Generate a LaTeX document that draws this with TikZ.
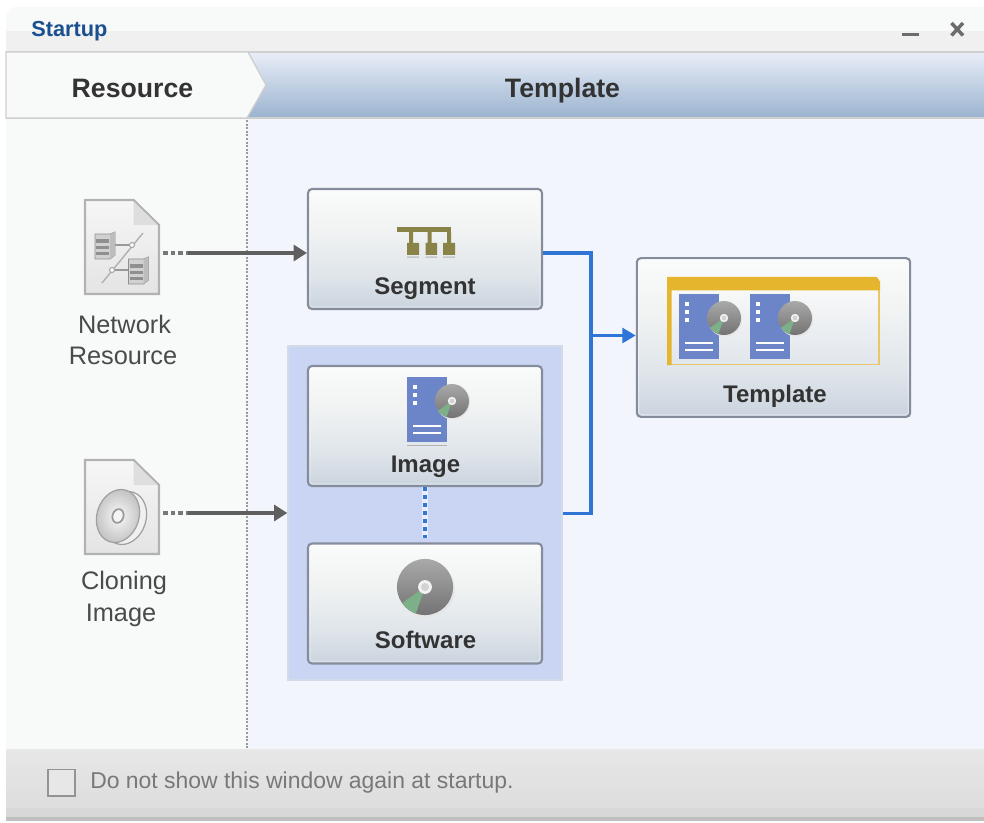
\documentclass[tikz,border=0pt]{standalone}
\usepackage{fontspec}
\setmainfont{Liberation Sans}
\usetikzlibrary{arrows.meta,shapes.geometric}
\definecolor{cWinA}{HTML}{F8F9F9}
\definecolor{cWinB}{HTML}{F0F0F0}
\definecolor{cEdge}{HTML}{CFCFCF}
\definecolor{cTabTop}{HTML}{E9EEF8}
\definecolor{cTabBot}{HTML}{9AB3CF}
\definecolor{cLeft}{HTML}{F8FAFA}
\definecolor{cRight}{HTML}{F2F5FB}
\definecolor{cPanel}{HTML}{C9D5F2}
\definecolor{cPanelEdge}{HTML}{D3DAE8}
\definecolor{cBoxEdge}{HTML}{858D9C}
\definecolor{cBlue}{HTML}{2E75D6}
\definecolor{cGrayLine}{HTML}{5F5F5F}
\definecolor{cServer}{HTML}{6C84C8}
\definecolor{cGold}{HTML}{E6B52E}
\definecolor{cGoldLight}{HTML}{E8C766}
\definecolor{cOlive}{HTML}{8A8348}
\definecolor{cGreen}{HTML}{7DB088}
\definecolor{cTitle}{HTML}{1B4F8F}
\definecolor{cDark}{HTML}{333333}
\definecolor{cText}{HTML}{4A4A4A}
\definecolor{cFoot}{HTML}{787878}
\definecolor{cIcon}{HTML}{A9A9A9}
\definecolor{cBoxT}{HTML}{FAFBFB}
\definecolor{cBoxA}{HTML}{F1F3F3}
\definecolor{cBoxB}{HTML}{DFE5EA}
\definecolor{cBoxC}{HTML}{CDD6E0}
\definecolor{cFootA}{HTML}{E7E7E7}
\definecolor{cFootB}{HTML}{DDDDDD}
\definecolor{cFootC}{HTML}{D8D8D8}
\definecolor{cFootD}{HTML}{C0C0C0}
\definecolor{cFold}{HTML}{DEDEDE}
\definecolor{cDocTop}{HTML}{F6F6F6}
\definecolor{cDocBot}{HTML}{E4E4E4}
\definecolor{cInnerT}{HTML}{F7F8F8}
\definecolor{cInnerB}{HTML}{E1E6EC}
\definecolor{cSrv}{HTML}{BDBDBD}
\definecolor{cSrvD}{HTML}{8F8F8F}
\pgfdeclareverticalshading{boxshade}{100bp}{color(0bp)=(cBoxC); color(25bp)=(cBoxC); color(27bp)=(cBoxC); color(39bp)=(cBoxB); color(58bp)=(cBoxA); color(75bp)=(cBoxT); color(100bp)=(cBoxT)}
\tikzset{
  x=0.75pt,y=-0.75pt,
  boxnode/.style={draw=cBoxEdge,line width=1.6pt,rounded corners=3pt,shading=boxshade,inner sep=0pt},
  boldlabel/.style={font=\bfseries\fontsize{18}{18}\selectfont,text=cDark,inner sep=0pt,anchor=base},
  headlabel/.style={font=\bfseries\fontsize{20}{20}\selectfont,text=cDark,inner sep=0pt,anchor=base},
  iconlabel/.style={font=\fontsize{19}{19}\selectfont,text=cText,inner sep=0pt,anchor=base},
  docnode/.style={minimum width=55.5pt,minimum height=70.5pt,inner sep=0pt},
  innerglow/.style={draw=white,opacity=.3,line width=1pt,rounded corners=2pt},
  grayarrow/.style={cGrayLine,line width=2.4pt,-{Triangle[length=10pt,width=12pt]}},
  graydots/.style={cGrayLine!85,line width=2.4pt,dash pattern=on 3.4pt off 2.3pt},
  blueline/.style={cBlue,line width=2.4pt},
  discpic/.pic={
    \fill[white!80!gray] (1,1.5) circle[radius=17];
    \shade[top color=cIcon,bottom color=black!55] (0,0) circle[radius=17];
    \fill[cGreen] (0,0) -- (145:17) arc[start angle=145,end angle=109,radius=17] -- cycle;
    \fill[white!90!gray] (0,0) circle[radius=4.2];
    \fill[white!65!gray] (0,0) circle[radius=2.4];
  },
  serverpic/.pic={
    \fill[cServer] (0,0) rectangle (39.5,65);
    \foreach \yy in {10,18,26} \fill[white] (6,\yy-2) rectangle (10,\yy+2);
    \fill[white] (6,48.3) rectangle (34,49.8);
    \fill[white] (6,55.3) rectangle (34,56.8);
    \pic at (45,24) {discpic};
  },
  docpic/.pic={
    \shade[draw=cIcon!90,line width=1.6pt,top color=cDocTop,bottom color=cDocBot] (0,0) -- (48.5,0) -- (74,25) -- (74,94) -- (0,94) -- cycle;
    \fill[cFold] (48.5,0) -- (74,25) -- (48.5,25) -- cycle;
    \draw[cIcon!90,line width=1.1pt] (48.5,0) -- (74,25);
  },
  minisrv/.pic={
    \fill[cSrv!70!white,draw=cSrvD,line width=.6pt] (0,2) -- (15,2) -- (20,0) -- (20,23) -- (15,27) -- (0,27) -- cycle;
    \fill[cSrv] (15,2) -- (20,0) -- (20,23) -- (15,27) -- cycle;
    \fill[cSrvD] (1,7) rectangle (14,11);
    \fill[cSrvD] (1,14) rectangle (14,17);
    \fill[cSrvD] (1,20) rectangle (14,23);
  },
}
\begin{document}
\begin{tikzpicture}
\useasboundingbox (0,0) rectangle (984,823);
\fill[white] (0,0) rectangle (984,823);
% window chrome
\fill[cWinA] (14,7) -- (984,7) -- (984,31) -- (6,31) -- (6,15) -- cycle;
\fill[cWinB] (6,31) rectangle (984,52);
\fill[cLeft] (6,119) rectangle (247,749);
\fill[cRight] (247,119) rectangle (984,749);
\shade[top color=cTabTop,bottom color=cTabBot] (240,52) rectangle (984,118);
\fill[cEdge] (6,51) rectangle (984,53);
\fill[cEdge] (6,117.5) rectangle (984,119.5);
\fill[cWinA,draw=cEdge,line width=1pt] (6,52) -- (248,52) -- (266,85) -- (247,118) -- (6,118) -- cycle;
\draw[gray!80,line width=1.4pt,dash pattern=on 1.5pt off 1.2pt] (247,120) -- (247,749);
% footer
\shade[top color=cFootA,bottom color=cFootB] (6,749) rectangle (984,808);
\fill[cFootC] (6,808) rectangle (984,817);
\fill[cFootD] (6,817) rectangle (984,821);
\fill[white!82!gray] (6,749) rectangle (984,751);
\fill[cFootA,draw=gray!85,line width=1.1pt] (48,769.5) rectangle (75,796);
\node[font=\fontsize{17.2}{18}\selectfont,text=cFoot,inner sep=0pt,anchor=base west] (footnote) at (90,788.5) {Do not show this window again at startup.};
% title
\node[font=\bfseries\fontsize{16.3}{17}\selectfont,text=cTitle,inner sep=0pt,anchor=base west] (title) at (31,37) {Startup};
\draw[gray!85!black,line width=2.2pt] (902,34.5) -- (919,34.5);
\draw[gray!85!black,line width=2.6pt] (951.5,23) -- (963,35.5) (963,23) -- (951.5,35.5);
\node[headlabel] (tabres) at (132.5,98) {Resource};
\node[headlabel] (tabtpl) at (562.5,98) {Template};
% group panel
\node[draw=cPanelEdge,fill=cPanel,line width=1pt,minimum width=205.5pt,minimum height=250.5pt,inner sep=0pt] (group) at (425,513) {};
% boxes
\node[boxnode,minimum width=175.5pt,minimum height=90pt] (segment) at (425,249) {};
\node[boxnode,minimum width=175.5pt,minimum height=90pt] (image) at (425,426) {};
\node[boxnode,minimum width=175.5pt,minimum height=90pt] (software) at (425,603.5) {};
\node[boxnode,minimum width=205pt,minimum height=119pt] (template) at (773.5,337.5) {};
\foreach \bx in {segment,image,software,template}
  \draw[innerglow] ([shift={(3,3)}]\bx.north west) rectangle ([shift={(-3,-3)}]\bx.south east);
\node[boldlabel] (lsegment) at (425,294.5) {Segment};
\node[boldlabel] (limage) at (425.5,472) {Image};
\node[boldlabel] (lsoftware) at (425.5,648.5) {Software};
\node[boldlabel] (ltemplate) at (775,402.5) {Template};
% segment icon
\fill[gray!45] (407,256.5) rectangle (419,258) (425.5,256.5) rectangle (437,258) (443,256.5) rectangle (455,258);
\fill[cOlive] (397,227.5) rectangle (451,232);
\fill[cOlive] (407,243) rectangle (419,255) (425.5,243) rectangle (437,255) (443,243) rectangle (455,255);
\fill[cOlive] (409,232) rectangle (413,243) (427.5,232) rectangle (431.5,243) (447,232) rectangle (451,243);
% image icon
\fill[gray!60] (407,444.5) rectangle (447,446);
\pic at (407,377) {serverpic};
% software icon
\pic[scale=1.65] at (425,587) {discpic};
% template icon
\shade[top color=cInnerT,bottom color=cInnerB] (667,290) rectangle (880,365);
\draw[cGoldLight,line width=1.2pt] (670,364.5) -- (879,364.5) -- (879,288);
\fill[cGold] (667,365) -- (667,277) -- (876,277) to[out=0,in=-90] (880,281) -- (880,290.5) -- (671.5,290.5) -- (671.5,365) -- cycle;
\pic at (679,294) {serverpic};
\pic at (750,294) {serverpic};
% network doc
\node[docnode] (netdoc) at (122,247) {};
\pic at (85,200) {docpic};
\pic at (95,232) {minisrv};
\pic at (128.5,257) {minisrv};
\draw[gray!80,line width=1pt] (115,245) -- (132,245) (112,270) -- (128,270);
\draw[gray!60,line width=1.1pt] (143,233) -- (102,283);
\fill[white,draw=gray!70,line width=.8pt] (132,245) circle[radius=2.5];
\fill[white,draw=gray!70,line width=.8pt] (112,270) circle[radius=2.5];
% cloning doc
\node[docnode] (clonedoc) at (122,507) {};
\pic at (85,460) {docpic};
\fill[white!88!gray,draw=gray!75,line width=.9pt,rotate around={-18:(125,518)}] (125,518) ellipse[x radius=21,y radius=27];
\shade[inner color=white!95!gray,outer color=gray!50,draw=gray!75,line width=.9pt,rotate around={-18:(118,516)}] (118,516) ellipse[x radius=21,y radius=27];
\fill[white!92!gray,draw=gray!80,line width=1.3pt,rotate around={-18:(118,516)}] (118,516) ellipse[x radius=5.5,y radius=7];
% captions
\node[iconlabel] (capa) at (124.5,333) {Network};
\node[iconlabel] (capb) at (123,364) {Resource};
\node[iconlabel] (capc) at (124,589.5) {Cloning};
\node[iconlabel] (capd) at (121,621) {Image};
% connectors
\coordinate (netdots) at (163,253);
\coordinate (netline) at (188,253);
\coordinate (clonedots) at (163,513);
\coordinate (cloneline) at (188,513);
\coordinate (busjoin) at (591,335.5);
\coordinate (groupout) at (562.5,513.5);
\coordinate (segout) at (543,253);
\draw[graydots] (netdots) -- (netline);
\draw[grayarrow] (netline) -- (segment.west |- netline);
\draw[graydots] (clonedots) -- (cloneline);
\draw[grayarrow] (cloneline) -- (group.west |- cloneline);
\draw[blueline,line join=miter] (segout) -| (busjoin);
\draw[blueline,line join=miter] (groupout) -| (busjoin);
\draw[blueline,-{Triangle[length=10pt,width=11pt]}] (busjoin) -- (template.west |- busjoin);
\draw[white!60!cPanel,line width=5pt,shorten >=3pt] (image.south) -- (software.north);
\draw[cBlue,line width=3pt,dash pattern=on 3pt off 3pt,shorten >=3pt] (image.south) -- (software.north);
\end{tikzpicture}
\end{document}
